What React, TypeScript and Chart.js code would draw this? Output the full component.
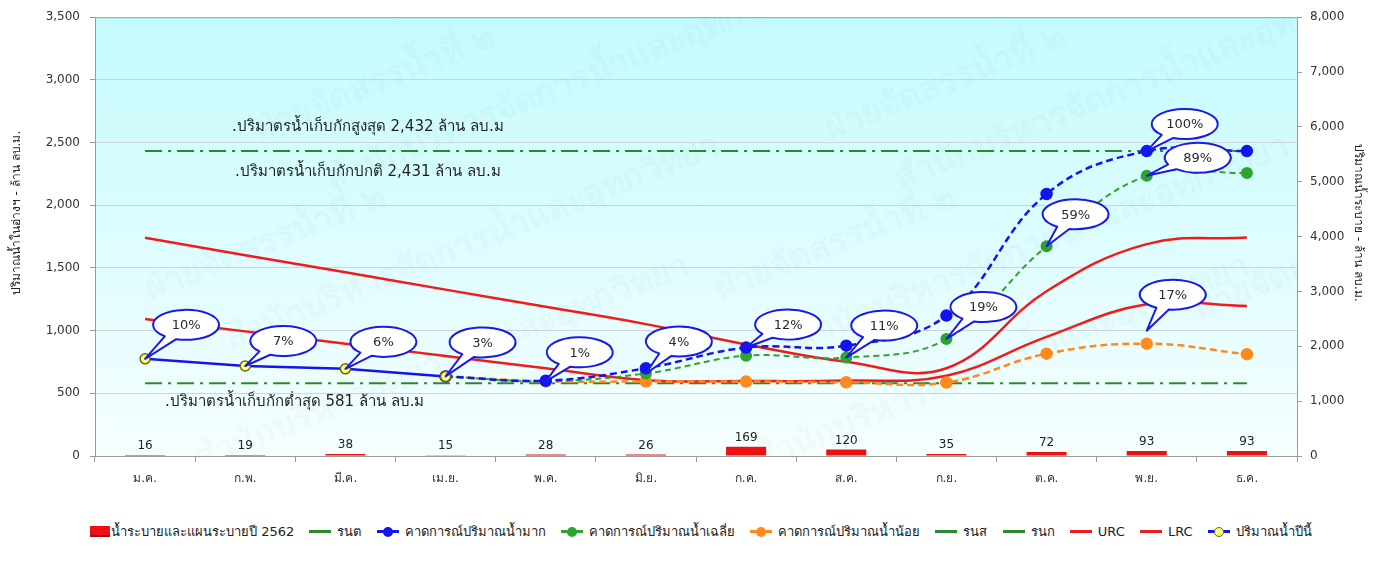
import React, { useEffect, useRef } from "react";
import { Chart, registerables } from "chart.js";

Chart.register(...registerables);

// ---------------- DATA ----------------
const months = ["ม.ค.", "ก.พ.", "มี.ค.", "เม.ย.", "พ.ค.", "มิ.ย.", "ก.ค.", "ส.ค.", "ก.ย.", "ต.ค.", "พ.ย.", "ธ.ค."];
const releasePlan = [16, 19, 38, 15, 28, 26, 169, 120, 35, 72, 93, 93];
const currentYear = [775, 718, 695, 635, null, null, null, null, null, null, null, null];
const forecastHigh = [null, null, null, 635, 600, 700, 865, 880, 1120, 2090, 2432, 2432];
const forecastAvg = [null, null, null, 635, 598, 658, 800, 785, 933, 1673, 2235, 2257];
const forecastLow = [null, null, null, 635, 596, 594, 594, 588, 586, 816, 896, 812];
const urc = [1740, 1602, 1465, 1327, 1190, 1052, 890, 752, 700, 1314, 1690, 1742];
const lrc = [1093, 994, 896, 797, 699, 605, 598, 602, 640, 950, 1210, 1196];
const minStorage = [581, 581, 581, 581, 581, 581, 581, 581, 581, 581, 581, 581];
const maxStorage = [2432, 2432, 2432, 2432, 2432, 2432, 2432, 2432, 2432, 2432, 2432, 2432];
const normalStorage = [2431, 2431, 2431, 2431, 2431, 2431, 2431, 2431, 2431, 2431, 2431, 2431];
const leftTicks = [0, 500, 1000, 1500, 2000, 2500, 3000, 3500];
const rightTicks = [0, 1000, 2000, 3000, 4000, 5000, 6000, 7000, 8000];

const seriesNames = [
  "น้ำระบายและแผนระบายปี 2562",
  "รนต",
  "คาดการณ์ปริมาณน้ำมาก",
  "คาดการณ์ปริมาณน้ำเฉลี่ย",
  "คาดการณ์ปริมาณน้ำน้อย",
  "รนส",
  "รนก",
  "URC",
  "LRC",
  "ปริมาณน้ำปีนี้",
];

// callout labels: text, series key, month index
const calloutTexts = ["10%", "7%", "6%", "3%", "1%", "4%", "12%", "11%", "19%", "59%", "100%", "89%", "17%"];
const calloutSeries = ["current", "current", "current", "current", "low", "avg", "high", "avg", "avg", "avg", "high", "avg", "low"];
const calloutIndex = [0, 1, 2, 3, 4, 5, 6, 7, 8, 9, 10, 10, 10];

const refLineTexts = [
  ".ปริมาตรน้ำเก็บกักสูงสุด 2,432 ล้าน ลบ.ม",
  ".ปริมาตรน้ำเก็บกักปกติ 2,431 ล้าน ลบ.ม",
  ".ปริมาตรน้ำเก็บกักต่ำสุด 581 ล้าน ลบ.ม",
];
const leftTitle = "ปริมาณน้ำในอ่างฯ - ล้าน ลบ.ม.";
const rightTitle = "ปริมาณน้ำระบาย - ล้าน ลบ.ม.";
const watermarkTexts = ["ฝ่ายจัดสรรน้ำที่ ๒", "สำนักบริหารจัดการน้ำและอุทกวิทยา"];

// ---------------- STYLE / LAYOUT ----------------
const FONT = "'DejaVu Sans', 'Noto Sans', sans-serif";
const W = 1392;
const H = 505;
const C_BLUE = "#1414f0";
const C_GREEN = "#2fa32f";
const C_ORANGE = "#ff8a1c";
const C_RED = "#ee1c1c";
const C_REF = "#2a8a2a";

// bubble offsets (px) relative to the point it points to, and tail gap
const calloutLayout = [
  { dx: 41, dy: -34, gap: 0 },
  { dx: 38, dy: -25, gap: 0 },
  { dx: 38, dy: -27, gap: 0 },
  { dx: 37, dy: -34, gap: 0 },
  { dx: 34, dy: -29, gap: 0 },
  { dx: 33, dy: -32, gap: 0 },
  { dx: 42, dy: -23, gap: 0 },
  { dx: 38, dy: -32, gap: 0 },
  { dx: 37, dy: -32, gap: 0 },
  { dx: 29, dy: -32, gap: 0 },
  { dx: 38, dy: -27, gap: 0 },
  { dx: 51, dy: -18, gap: 0 },
  { dx: 26, dy: -49, gap: 13 },
];

const seriesDatasetIndex: Record<string, number> = { current: 0, high: 1, avg: 2, low: 3 };

const bgPlugin = {
  id: "bgPlugin",
  beforeDraw(chart: any) {
    const { ctx, chartArea: a } = chart;
    ctx.save();
    const g = ctx.createLinearGradient(0, a.top, 0, a.bottom);
    g.addColorStop(0, "#c4fbfd");
    g.addColorStop(1, "#f6feff");
    ctx.fillStyle = g;
    ctx.fillRect(a.left, a.top, a.right - a.left, a.bottom - a.top);
    ctx.restore();
  },
  beforeDatasetsDraw(chart: any) {
    const { ctx, chartArea: a } = chart;
    ctx.save();
    ctx.beginPath();
    ctx.rect(a.left, a.top, a.right - a.left, a.bottom - a.top);
    ctx.clip();
    ctx.fillStyle = "rgba(120,150,150,0.045)";
    ctx.font = `bold 34px ${FONT}`;
    const spots = [
      [260, 140, 0], [330, 190, 1], [830, 140, 0], [900, 190, 1],
      [150, 300, 0], [230, 350, 1], [720, 300, 0], [800, 350, 1],
      [1200, 320, 0], [200, 470, 1], [760, 470, 1],
    ];
    for (const [x, y, k] of spots) {
      ctx.save();
      ctx.translate(x, y);
      ctx.rotate(-0.38);
      ctx.fillText(watermarkTexts[k], 0, 0);
      ctx.restore();
    }
    ctx.restore();
  },
  afterDraw(chart: any) {
    const { ctx, chartArea: a, scales } = chart;
    ctx.save();
    // top border
    ctx.strokeStyle = "#a0a0a0";
    ctx.lineWidth = 1;
    ctx.beginPath();
    ctx.moveTo(a.left, a.top + 0.5);
    ctx.lineTo(a.right, a.top + 0.5);
    ctx.stroke();

    // reference-line texts
    ctx.fillStyle = "#1e1e1e";
    ctx.font = `15px ${FONT}`;
    ctx.textBaseline = "middle";
    ctx.textAlign = "left";
    const y = scales.y;
    ctx.fillText(refLineTexts[0], a.left + 137, y.getPixelForValue(maxStorage[0]) - 24);
    ctx.fillText(refLineTexts[1], a.left + 140, y.getPixelForValue(normalStorage[0]) + 21);
    ctx.fillText(refLineTexts[2], a.left + 70, y.getPixelForValue(minStorage[0]) + 19);

    // axis titles
    ctx.font = `12px ${FONT}`;
    ctx.fillStyle = "#222";
    ctx.textAlign = "center";
    ctx.save();
    ctx.translate(17, 213);
    ctx.rotate(-Math.PI / 2);
    ctx.fillText(leftTitle, 0, 0);
    ctx.restore();
    ctx.save();
    ctx.translate(1358, 223);
    ctx.rotate(Math.PI / 2);
    ctx.fillText(rightTitle, 0, 0);
    ctx.restore();

    // bar value labels
    const barMeta = chart.getDatasetMeta(9);
    ctx.font = `12px ${FONT}`;
    ctx.textBaseline = "bottom";
    ctx.fillStyle = "#222";
    barMeta.data.forEach((el: any, i: number) => {
      ctx.fillText(String(releasePlan[i]), el.x, el.y - 3);
    });

    // callouts
    calloutTexts.forEach((txt, k) => {
      const meta = chart.getDatasetMeta(seriesDatasetIndex[calloutSeries[k]]);
      const el = meta.data[calloutIndex[k]];
      if (!el) return;
      const L = calloutLayout[k];
      const px = el.x;
      const py = el.y - L.gap;
      const cx = el.x + L.dx;
      const cy = el.y + L.dy;
      const rx = 33;
      const ry = 15;
      const ang = Math.atan2((py - cy) / ry, (px - cx) / rx);
      const d = 0.2;
      ctx.beginPath();
      ctx.ellipse(cx, cy, rx, ry, 0, ang + d, ang - d + Math.PI * 2);
      ctx.lineTo(px, py);
      ctx.closePath();
      ctx.fillStyle = "#ffffff";
      ctx.fill();
      ctx.strokeStyle = "#1a1ae8";
      ctx.lineWidth = 2;
      ctx.lineJoin = "round";
      ctx.stroke();
      ctx.fillStyle = "#2a2a2a";
      ctx.font = `13px ${FONT}`;
      ctx.textAlign = "center";
      ctx.textBaseline = "middle";
      ctx.fillText(txt, cx, cy + 1);
    });
    ctx.restore();
  },
};

function lineDs(label: string, data: any[], color: string, extra: any) {
  return {
    type: "line",
    label,
    data,
    yAxisID: "y",
    borderColor: color,
    backgroundColor: color,
    borderWidth: 2.5,
    pointRadius: 0,
    fill: false,
    spanGaps: false,
    ...extra,
  };
}

const fmt = (v: number) => v.toLocaleString("en-US");

export default function App() {
  const ref = useRef<HTMLCanvasElement | null>(null);

  useEffect(() => {
    if (!ref.current) return;
    const datasets: any[] = [
      lineDs(seriesNames[9], currentYear, C_BLUE, {
        order: 0,
        pointRadius: 5,
        pointBackgroundColor: "#ffff7a",
        pointBorderColor: "#6b6b10",
        pointBorderWidth: 1.5,
        borderWidth: 2.5,
      }),
      lineDs(seriesNames[2], forecastHigh, C_BLUE, {
        order: 1,
        borderDash: [7, 4],
        tension: 0.4,
        pointRadius: 5,
        pointBackgroundColor: C_BLUE,
        pointBorderColor: C_BLUE,
      }),
      lineDs(seriesNames[3], forecastAvg, C_GREEN, {
        order: 2,
        borderDash: [6, 4],
        borderWidth: 2,
        tension: 0.4,
        pointRadius: 5,
        pointBackgroundColor: C_GREEN,
        pointBorderColor: C_GREEN,
      }),
      lineDs(seriesNames[4], forecastLow, C_ORANGE, {
        order: 3,
        borderDash: [7, 4],
        borderWidth: 2.5,
        tension: 0.4,
        pointRadius: 5,
        pointBackgroundColor: C_ORANGE,
        pointBorderColor: C_ORANGE,
      }),
      lineDs(seriesNames[7], urc, C_RED, { order: 4, tension: 0.4 }),
      lineDs(seriesNames[8], lrc, C_RED, { order: 4, tension: 0.4 }),
      lineDs(seriesNames[1], minStorage, C_REF, { order: 5, borderWidth: 2, borderDash: [17, 6, 3, 6] }),
      lineDs(seriesNames[5], maxStorage, C_REF, { order: 5, borderWidth: 2, borderDash: [17, 6, 3, 6] }),
      lineDs(seriesNames[6], normalStorage, C_REF, { order: 5, borderWidth: 0, borderDash: [17, 6, 3, 6] }),
      {
        type: "bar",
        label: seriesNames[0],
        data: releasePlan,
        yAxisID: "y1",
        backgroundColor: "#ee1111",
        borderColor: "#9a1010",
        borderWidth: { top: 0, left: 0, right: 0, bottom: 2 },
        barPercentage: 0.4,
        categoryPercentage: 1,
        order: 10,
      },
    ];

    const tickFont = { family: FONT, size: 12 };
    const chart = new Chart(ref.current, {
      type: "bar",
      data: { labels: months, datasets },
      plugins: [bgPlugin],
      options: {
        animation: false,
        responsive: false,
        devicePixelRatio: 1,
        layout: { padding: { top: 14, left: 0, right: 0, bottom: 0 } },
        plugins: { legend: { display: false }, tooltip: { enabled: false }, title: { display: false } },
        scales: {
          x: {
            type: "category",
            offset: true,
            grid: { offset: true, drawOnChartArea: false, tickLength: 6, color: "#9a9a9a" },
            border: { color: "#9a9a9a" },
            ticks: { font: tickFont, color: "#333", padding: 10, maxRotation: 0 },
            afterFit: (s: any) => { s.height = H - 456; },
          },
          y: {
            position: "left",
            min: 0,
            max: 3500,
            afterBuildTicks: (s: any) => { s.ticks = leftTicks.map((v) => ({ value: v })); },
            grid: { color: "#cdd6d6", tickColor: "#9a9a9a", tickLength: 5 },
            border: { color: "#9a9a9a" },
            ticks: { font: tickFont, color: "#333", padding: 10, callback: (v: any) => fmt(v) },
            afterFit: (s: any) => { s.width = 95; },
          },
          y1: {
            position: "right",
            min: 0,
            max: 8000,
            afterBuildTicks: (s: any) => { s.ticks = rightTicks.map((v) => ({ value: v })); },
            grid: { drawOnChartArea: false, color: "#9a9a9a", tickLength: 5 },
            border: { color: "#9a9a9a" },
            ticks: { font: tickFont, color: "#333", padding: 8, callback: (v: any) => fmt(v) },
            afterFit: (s: any) => { s.width = W - 1297; },
          },
        },
      } as any,
    });
    return () => chart.destroy();
  }, []);

  const legendItems = [
    { name: seriesNames[0], kind: "rect", color: "#ee1111" },
    { name: seriesNames[1], kind: "line", color: C_REF },
    { name: seriesNames[2], kind: "dot", color: C_BLUE },
    { name: seriesNames[3], kind: "dot", color: C_GREEN },
    { name: seriesNames[4], kind: "dot", color: C_ORANGE },
    { name: seriesNames[5], kind: "line", color: C_REF },
    { name: seriesNames[6], kind: "line", color: C_REF },
    { name: seriesNames[7], kind: "line", color: C_RED },
    { name: seriesNames[8], kind: "line", color: C_RED },
    { name: seriesNames[9], kind: "cur", color: C_BLUE },
  ];

  const marker = (kind: string, color: string) => {
    if (kind === "rect") {
      return <span style={{ display: "inline-block", width: 20, height: 11, background: color, borderBottom: "2px solid #9a1010", boxSizing: "border-box", marginRight: 1 }} />;
    }
    const line = (
      <span style={{ position: "absolute", left: 0, top: 5, width: 22, height: 3, background: color }} />
    );
    const dot =
      kind === "dot" ? (
        <span style={{ position: "absolute", left: 6, top: 1.5, width: 10, height: 10, borderRadius: 5, background: color }} />
      ) : kind === "cur" ? (
        <span style={{ position: "absolute", left: 6, top: 1.5, width: 8, height: 8, borderRadius: 5, background: "#ffff7a", border: "1px solid #6b6b10" }} />
      ) : null;
    return (
      <span style={{ position: "relative", display: "inline-block", width: 22, height: 13, marginRight: 6 }}>
        {line}
        {dot}
      </span>
    );
  };

  return (
    <div style={{ position: "absolute", left: 0, top: 0, width: W, height: 562, background: "#fff" }}>
      <canvas ref={ref} width={W} height={H} style={{ display: "block", width: W, height: H }} />
      <div
        style={{
          position: "absolute",
          left: 90,
          top: 521,
          width: 1222,
          display: "flex",
          justifyContent: "space-between",
          alignItems: "center",
          fontFamily: FONT,
          fontSize: 13,
          color: "#222",
          whiteSpace: "nowrap",
        }}
      >
        {legendItems.map((it) => (
          <span key={it.name} style={{ display: "inline-flex", alignItems: "center" }}>
            {marker(it.kind, it.color)}
            <span>{it.name}</span>
          </span>
        ))}
      </div>
    </div>
  );
}
